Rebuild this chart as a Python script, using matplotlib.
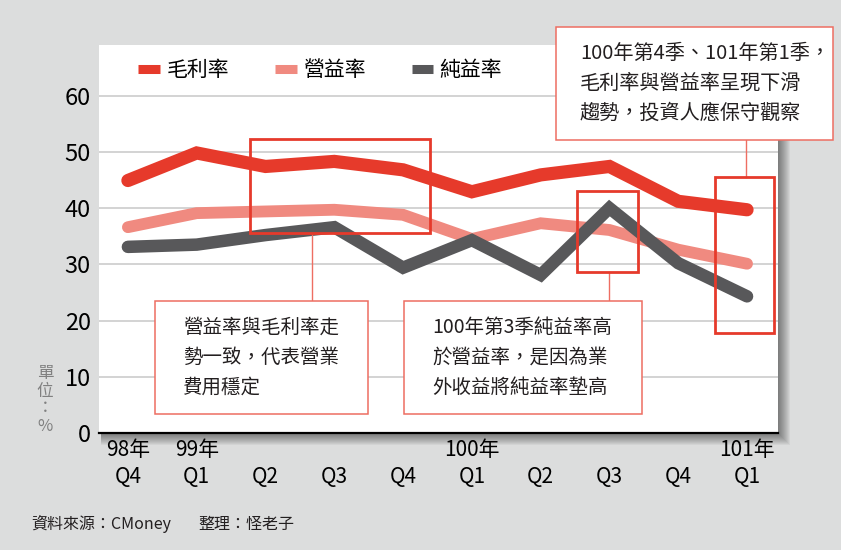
import numpy as np
import matplotlib.pyplot as plt
from matplotlib.patches import Rectangle
from matplotlib.lines import Line2D

plt.rcParams['font.family'] = ['Noto Sans CJK TC', 'DejaVu Sans']

quarters = ['Q4', 'Q1', 'Q2', 'Q3', 'Q4', 'Q1', 'Q2', 'Q3', 'Q4', 'Q1']
years = ['98年', '99年', '', '', '', '100年', '', '', '', '101年']
gross_margin = [44.9, 49.8, 47.4, 48.3, 46.8, 42.9, 45.9, 47.4, 41.2, 39.7]
operating_margin = [36.6, 39.1, 39.4, 39.7, 38.8, 34.5, 37.3, 36.1, 32.6, 30.1]
net_margin = [33.1, 33.5, 35.2, 36.6, 29.4, 34.3, 28.1, 40.0, 30.2, 24.3]
series_names = ['毛利率', '營益率', '純益率']

RED = '#E63A2B'
PINK = '#F08A80'
GREY = '#58585A'
BOX_EDGE = '#EE6E62'
BG = '#DCDDDD'

fig = plt.figure(figsize=(8.41, 5.50), dpi=100, facecolor=BG)
W, H = 841, 550
ax = fig.add_axes([99 / W, (H - 433) / H, (778 - 99) / W, (433 - 45) / H])
ax.set_facecolor('white')

# drop shadow of the white panel
x0, y0, w0, h0 = ax.get_position().bounds
for s in range(1, 13):
    fig.patches.append(Rectangle((x0 + 2 / W, y0 - s / H), w0 + s / W - 2 / W, h0 - 8 / H,
                                 transform=fig.transFigure, facecolor='black',
                                 alpha=0.045, edgecolor='none', zorder=-1))

x = np.arange(len(quarters))
ax.plot(x, gross_margin, color=RED, lw=9.5, solid_capstyle='round',
        solid_joinstyle='miter', label=series_names[0], zorder=4)
ax.plot(x, operating_margin, color=PINK, lw=8.5, solid_capstyle='round',
        solid_joinstyle='miter', label=series_names[1], zorder=3)
ax.plot(x, net_margin, color=GREY, lw=9.0, solid_capstyle='round',
        solid_joinstyle='miter', label=series_names[2], zorder=3.5)

ax.set_xlim(-0.42, 9.45)
ax.set_ylim(0, 69)
ax.set_yticks(range(0, 61, 10))
ax.tick_params(axis='y', length=0, pad=6, labelsize=17)
ax.set_xticks(x, [''] * len(x))
ax.tick_params(axis='x', length=0)
ax.grid(axis='y', color='#C8C8C8', lw=1.1)
ax.set_axisbelow(True)
for side in ['top', 'right', 'left']:
    ax.spines[side].set_visible(False)
ax.spines['bottom'].set_color('black')
ax.spines['bottom'].set_linewidth(1.6)
ax.spines['bottom'].set_zorder(5)

tr = ax.get_xaxis_transform()
for i in x:
    ax.text(i, -0.113, quarters[i], transform=tr, ha='center', va='center', fontsize=15)
    if years[i]:
        ax.text(i, -0.045, years[i], transform=tr, ha='center', va='center', fontsize=15)

leg = ax.legend(ncol=3, loc='center left', bbox_to_anchor=(0.058, 0.936), frameon=False,
                fontsize=15, handlelength=1.05, handletextpad=0.3, columnspacing=2.2,
                borderpad=0, borderaxespad=0)
for h in leg.legend_handles:
    h.set_linewidth(6.5)
    h.set_solid_capstyle('butt')


def emphasis(x1, x2, y1, y2):
    ax.add_patch(Rectangle((x1, y1), x2 - x1, y2 - y1, fill=False, edgecolor=RED,
                           lw=2.0, zorder=6, clip_on=False))


def note(x1, x2, y1, y2, tx, txt, fs):
    ax.add_patch(Rectangle((x1, y1), x2 - x1, y2 - y1, facecolor='white',
                           edgecolor=BOX_EDGE, lw=1.1, zorder=6, clip_on=False))
    ax.text(tx, (y1 + y2) / 2, txt, ha='left', va='center', fontsize=fs,
            linespacing=1.55, color='#231F20', zorder=7, clip_on=False)


def connector(xc, y1, y2):
    ax.add_line(Line2D([xc, xc], [y1, y2], color=BOX_EDGE, lw=1.0, zorder=5, clip_on=False))


emphasis(1.77, 4.39, 35.6, 52.3)
connector(2.68, 23.5, 35.6)
note(0.39, 3.49, 3.4, 23.5, 0.80, '營益率與毛利率走\n勢一致，代表營業\n費用穩定', 14)

emphasis(6.53, 7.41, 28.6, 43.1)
connector(7.0, 23.5, 28.6)
note(4.01, 7.47, 3.4, 23.5, 4.42, '100年第3季純益率高\n於營益率，是因為業\n外收益將純益率墊高', 14)

emphasis(8.53, 9.39, 17.8, 45.6)
connector(8.98, 45.6, 52.1)
note(6.22, 10.25, 52.1, 72.2, 6.57, '100年第4季、101年第1季，\n毛利率與營益率呈現下滑\n趨勢，投資人應保守觀察', 14.5)

fig.text(45 / W, 1 - 400 / H, '單\n位\n：\n%', ha='center', va='center', fontsize=12,
         color='#808080', linespacing=1.05)
fig.text(31 / W, 1 - 524 / H, '資料來源：CMoney', ha='left', va='center', fontsize=11.5,
         color='#231F20')
fig.text(198 / W, 1 - 524 / H, '整理：怪老子', ha='left', va='center', fontsize=11.5,
         color='#231F20')

fig.savefig('out.png', dpi=100, facecolor=BG)
